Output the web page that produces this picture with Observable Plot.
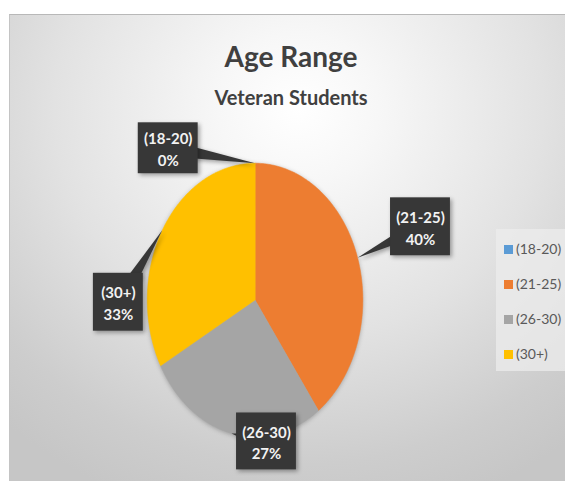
<!DOCTYPE html>
<html><head><meta charset="utf-8">
<script src="https://cdn.jsdelivr.net/npm/d3@7"></script>
<script src="https://cdn.jsdelivr.net/npm/@observablehq/plot@0.6"></script>
<style>
body{margin:0;background:#fff;font-family:Lato,"Open Sans",sans-serif;}
#chart{position:absolute;left:9px;top:14px;width:556px;height:467px;overflow:hidden;
 background: radial-gradient(ellipse 80% 90% at 52% 20%, #ffffff 0%, #f7f7f7 18%, #e2e2e2 55%, #cdcdcd 85%, #c6c6c6 100%);
 border-top:1px solid #b8b8b8; border-left:1px solid #c4c4c4; box-sizing:border-box;}
#chart svg{position:absolute;left:0;top:0;}
.ttl{position:absolute;left:0;width:562px;text-align:center;color:#404040;font-weight:700;line-height:1;white-space:nowrap;}
#legend{position:absolute;left:486px;top:214px;width:70px;height:142px;background:rgba(236,236,236,0.75);}
.li{position:absolute;left:8px;font-size:14px;color:#595959;line-height:1;white-space:nowrap;}
.sw{display:inline-block;width:9px;height:9px;margin-right:3px;vertical-align:0px;}
</style></head>
<body>
<div id="chart"></div>
<script>
// ---- data ----
const categories = ["(18-20)", "(21-25)", "(26-30)", "(30+)"];
const percents = [0, 40, 27, 33];
const colors = ["#5b9bd5", "#ed7d31", "#a5a5a5", "#ffc000"];
const titleText = "Age Range";
const subtitleText = "Veteran Students";

// ---- layout ----
const W = 556, H = 467, CX = 245, CY = 285, RX = 108, RY = 137;
const calloutLayout = [
  {dx: -87, dy: -15, w: 60, h: 51},
  {dx: 63, dy: -31, w: 60, h: 58},
  {dx: 35, dy: 8, w: 60, h: 57},
  {dx: -44, dy: 72, w: 50, h: 58}
];

const total = d3.sum(percents);
let acc = 0;
const slices = categories.map((c, i) => {
  const a0 = acc / total * 2 * Math.PI; acc += percents[i];
  const a1 = acc / total * 2 * Math.PI;
  return {cat: c, a0, a1, value: percents[i]};
});
const piePts = slices.flatMap(s => {
  if (s.a1 === s.a0) return [];
  const n = Math.max(2, Math.ceil((s.a1 - s.a0) / (Math.PI / 180)));
  const pts = [{cat: s.cat, x: 0, y: 0}];
  for (let k = 0; k <= n; k++) {
    const a = s.a0 + (s.a1 - s.a0) * k / n;
    pts.push({cat: s.cat, x: Math.sin(a), y: Math.cos(a)});
  }
  return pts;
});
const callouts = slices.map((s, i) => {
  const m = (s.a0 + s.a1) / 2;
  const ax = Math.sin(m), ay = Math.cos(m);
  const L = calloutLayout[i];
  const bx = ax + L.dx / RX, by = ay - L.dy / RY;
  return {cat: s.cat, label: `${s.cat}\n${s.value}%`, ax, ay, bx, by,
    x1: bx - L.w / 2 / RX, x2: bx + L.w / 2 / RX, y1: by - L.h / 2 / RY, y2: by + L.h / 2 / RY};
});
const pointerPts = callouts.flatMap(c => {
  const px = (c.ax - c.bx) * RX, py = -(c.ay - c.by) * RY;
  const len = Math.hypot(px, py), hw = 8;
  const nx = -py / len * hw, ny = px / len * hw;
  return [
    {cat: c.cat, x: c.ax, y: c.ay},
    {cat: c.cat, x: c.bx + nx / RX, y: c.by - ny / RY},
    {cat: c.cat, x: c.bx - nx / RX, y: c.by + ny / RY}
  ];
});

const plot = Plot.plot({
  width: W, height: H, margin: 0,
  x: {domain: [-1, 1], range: [CX - RX, CX + RX], axis: null},
  y: {domain: [-1, 1], range: [CY + RY, CY - RY], axis: null},
  color: {domain: categories, range: colors},
  style: {background: "transparent", overflow: "visible"},
  marks: [
    Plot.line(piePts, {x: "x", y: "y", z: "cat", fill: "cat", stroke: "cat", strokeWidth: 0.5, curve: "linear-closed"}),
    Plot.line(pointerPts, {x: "x", y: "y", z: "cat", fill: "#373737", stroke: "none", curve: "linear-closed"}),
    Plot.rect(callouts, {x1: "x1", x2: "x2", y1: "y1", y2: "y2", fill: "#373737", inset: 0}),
    Plot.text(callouts, {x: "bx", y: "by", text: "label", fill: "#f2f2f2", fontSize: 15, fontWeight: "bold", lineHeight: 1.45, fontFamily: "Lato"})
  ]
});
const groups = plot.querySelectorAll(":scope > g");
if (groups[0]) groups[0].style.filter = "drop-shadow(0px 1px 2px rgba(0,0,0,0.25))";
if (groups[1]) groups[1].style.filter = "drop-shadow(2px 2px 2px rgba(0,0,0,0.35))";
if (groups[2]) groups[2].style.filter = "drop-shadow(2px 2px 2px rgba(0,0,0,0.35))";
const chart = document.getElementById("chart");
chart.appendChild(plot);

const t1 = document.createElement("div");
t1.className = "ttl"; t1.style.fontSize = "28px"; t1.style.top = "27px"; t1.textContent = titleText;
const t2 = document.createElement("div");
t2.className = "ttl"; t2.style.fontSize = "20px"; t2.style.top = "72px"; t2.textContent = subtitleText;
chart.appendChild(t1); chart.appendChild(t2);

const legend = document.createElement("div");
legend.id = "legend";
categories.forEach((c, i) => {
  const it = document.createElement("div");
  it.className = "li"; it.style.top = (13 + i * 35) + "px";
  const sw = document.createElement("span");
  sw.className = "sw"; sw.style.background = colors[i];
  it.appendChild(sw); it.appendChild(document.createTextNode(c));
  legend.appendChild(it);
});
chart.appendChild(legend);
</script>
</body></html>
